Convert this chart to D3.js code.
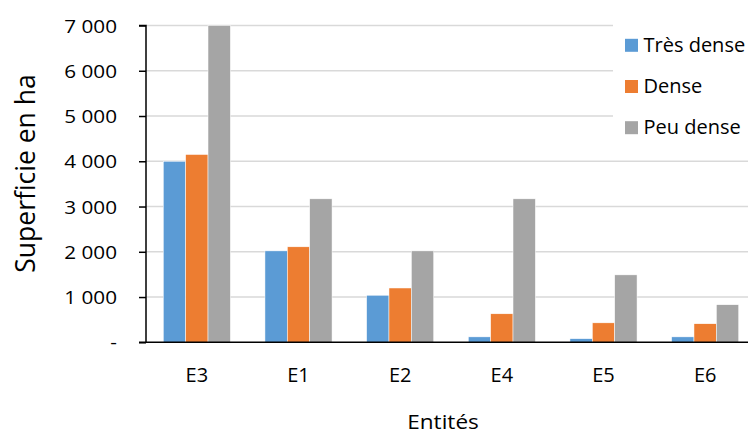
<!DOCTYPE html>
<html><head><meta charset="utf-8">
<script src="https://cdn.jsdelivr.net/npm/d3@7"></script>
<style>body{margin:0;background:#fff}svg{display:block}</style>
</head><body>
<svg id="c" width="748" height="434"></svg>
<script>
const categories = ["E3","E1","E2","E4","E5","E6"];
const seriesNames = ["Très dense","Dense","Peu dense"];
const tresDense = [4000, 2020, 1040, 120, 80, 120];
const dense = [4150, 2110, 1200, 630, 430, 410];
const peuDense = [7000, 3170, 2020, 3170, 1490, 830];
const yTicks = [0,1000,2000,3000,4000,5000,6000,7000];
const yTickLabels = ["-","1 000","2 000","3 000","4 000","5 000","6 000","7 000"];
const colors = ["#5B9BD5","#ED7D31","#A5A5A5"];

const series = [tresDense, dense, peuDense];
const svg = d3.select("#c");
const font = "'Open Sans', Lato, sans-serif";
const pLeft = 146, pRight = 756, pTop = 25.5, pBottom = 342.3;

const x = d3.scaleBand().domain(categories).range([pLeft, pRight]).paddingInner(0.34).paddingOuter(0.17);
const xs = d3.scaleBand().domain(seriesNames).range([0, x.bandwidth()]);
const y = d3.scaleLinear().domain([0,7000]).range([pBottom, pTop]);

// gridlines
svg.append("g").selectAll("line").data(yTicks.slice(1)).join("line")
  .attr("x1", pLeft).attr("x2", 748).attr("y1", d=>y(d)).attr("y2", d=>y(d))
  .attr("stroke","#D9D9D9").attr("stroke-width",1.5);

// bars
seriesNames.forEach((s,i)=>{
  svg.append("g").selectAll("rect").data(categories).join("rect")
    .attr("x", c=>x(c)+xs(s)).attr("width", xs.bandwidth())
    .attr("y", (c,j)=>y(series[i][j])).attr("height",(c,j)=>pBottom-y(series[i][j]))
    .attr("fill", colors[i]).attr("stroke","#fff").attr("stroke-width",0.5);
});

// y axis
const yAxis = d3.axisLeft(y).tickValues(yTicks).tickFormat((d,i)=>yTickLabels[i]).tickSize(7).tickPadding(22);
const ga = svg.append("g").attr("transform",`translate(${pLeft},0)`).call(yAxis);
ga.select(".domain").attr("stroke","#000").attr("stroke-width",1.5).attr("d",`M-7,${pTop}H0V${pBottom}`);
ga.selectAll(".tick line").attr("stroke","#000").attr("stroke-width",1.5);
ga.selectAll(".tick text").attr("font-family",font).attr("font-size",18).attr("fill","#000")
  .attr("x",0).attr("dy",null).attr("y",6.5)
  .attr("transform","translate(-29,0) scale(1.15,1)");

// x axis
const xAxis = d3.axisBottom(x).tickSize(0).tickPadding(0);
const gx = svg.append("g").attr("transform",`translate(0,${pBottom})`).call(xAxis);
gx.select(".domain").attr("stroke","#000").attr("stroke-width",1.5).attr("d",`M139,0H748`);
gx.selectAll(".tick text").attr("font-family",font).attr("font-size",20).attr("fill","#000")
  .attr("dy",null).attr("y",39.3);

// axis titles
svg.append("text").attr("transform","translate(35,173.5) rotate(-90)").attr("text-anchor","middle")
  .attr("font-family",font).attr("font-size",26.5).attr("fill","#000").text("Superficie en ha");
svg.append("text").attr("transform","translate(443,428.5) scale(1.13,1)").attr("text-anchor","middle")
  .attr("font-family",font).attr("font-size",20).attr("fill","#000").text("Entités");

// legend
const lg = svg.append("g");
lg.append("rect").attr("x",613).attr("y",18).attr("width",140).attr("height",125).attr("fill","#fff");
seriesNames.forEach((s,i)=>{
  const base = 51.8 + i*41.2;
  lg.append("rect").attr("x",625).attr("y",base-13).attr("width",13).attr("height",13).attr("fill",colors[i]);
  lg.append("text").attr("x",643.5).attr("y",base).attr("font-family",font)
    .attr("font-size",20).attr("fill","#000").text(s);
});
</script>
</body></html>
